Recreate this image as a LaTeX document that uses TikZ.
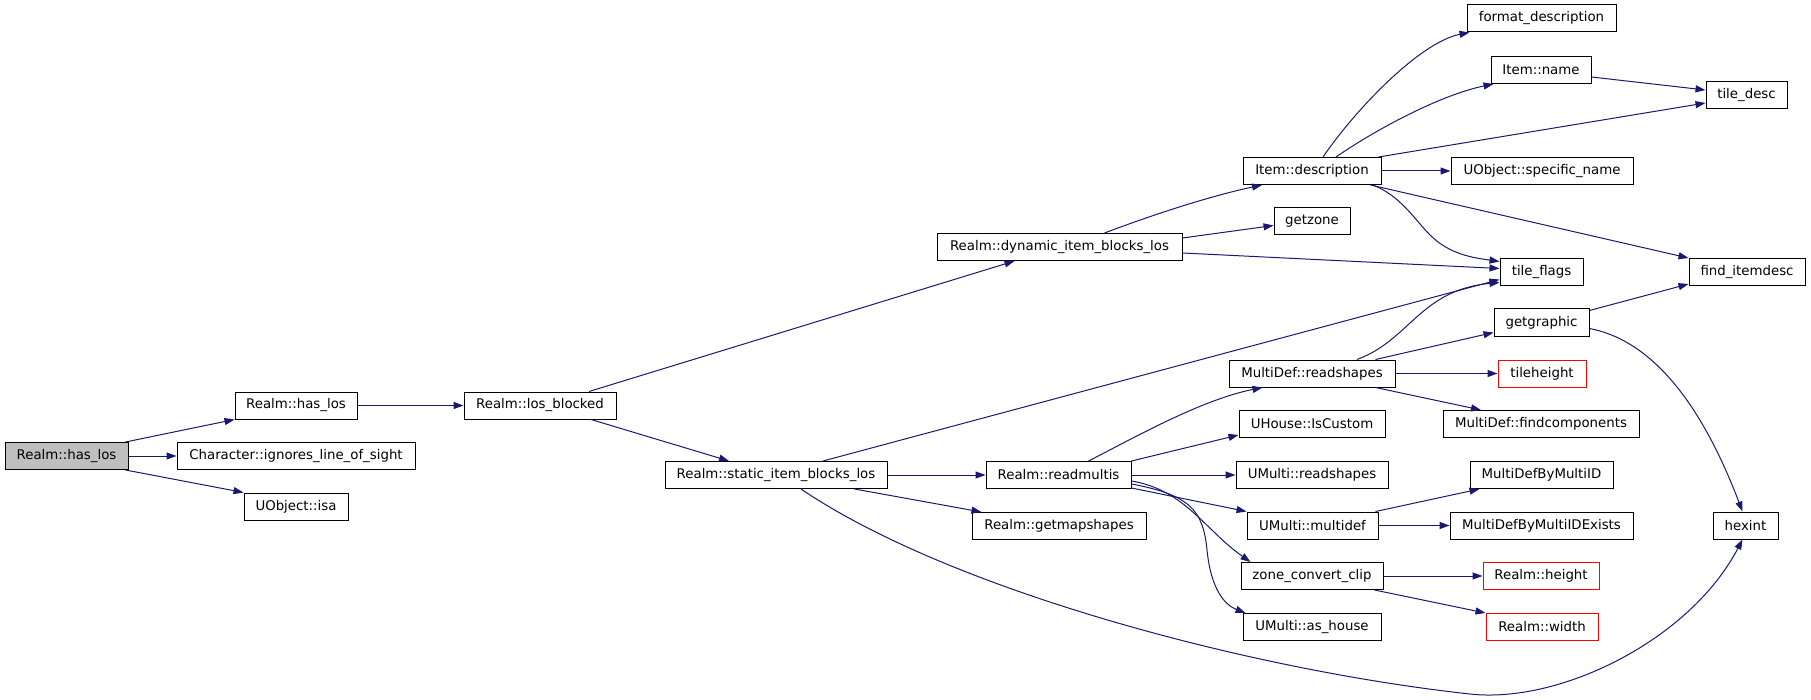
\documentclass[tikz,border=0pt]{standalone}
\usepackage{fontspec}
\setmainfont{DejaVu Sans}
\usetikzlibrary{arrows.meta}
\definecolor{edgec}{HTML}{191970}
\definecolor{grayfill}{HTML}{BFBFBF}
\begin{document}
\begin{tikzpicture}[x=1pt,y=-1pt,
 box/.style={draw=black, line width=1pt, rectangle, inner sep=0pt, minimum height=27pt, font=\fontsize{13.33}{16}\selectfont, text=black},
 redbox/.style={box, draw=red},
 root/.style={box, fill=grayfill},
 edge/.style={draw=edgec, line width=1pt, -{Triangle[length=10pt,width=7pt]}}]

\useasboundingbox (0,0) rectangle (1811,700);

\node[root, minimum width=123pt] (hl0) at (66.5,456) {Realm::has\_los};
\node[box, minimum width=122pt] (hl) at (296,405.5) {Realm::has\_los};
\node[box, minimum width=238pt] (cils) at (296,456) {Character::ignores\_line\_of\_sight};
\node[box, minimum width=104pt] (isa) at (296,506.5) {UObject::isa};
\node[box, minimum width=152pt] (lb) at (540,405.5) {Realm::los\_blocked};
\node[box, minimum width=245pt] (dib) at (1059.5,247) {Realm::dynamic\_item\_blocks\_los};
\node[box, minimum width=222pt] (sib) at (776,475) {Realm::static\_item\_blocks\_los};
\node[box, minimum width=138pt] (desc) at (1312,171) {Item::description};
\node[box, minimum width=76pt] (gz) at (1312,221.5) {getzone};
\node[box, minimum width=149pt] (fmt) at (1541.5,18.5) {format\_description};
\node[box, minimum width=100pt] (name) at (1541,70) {Item::name};
\node[box, minimum width=81pt] (tdesc) at (1746.5,95) {tile\_desc};
\node[box, minimum width=182pt] (sname) at (1542,171) {UObject::specific\_name};
\node[box, minimum width=83pt] (tflags) at (1541.5,272.5) {tile\_flags};
\node[box, minimum width=116pt] (fid) at (1747,272) {find\_itemdesc};
\node[box, minimum width=95pt] (gg) at (1541.5,322.5) {getgraphic};
\node[box, minimum width=166pt] (mdrs) at (1312,373.5) {MultiDef::readshapes};
\node[redbox, minimum width=88pt] (th) at (1542,373.5) {tileheight};
\node[box, minimum width=196pt] (mdfc) at (1541,424) {MultiDef::findcomponents};
\node[box, minimum width=146pt] (uhic) at (1312,424) {UHouse::IsCustom};
\node[box, minimum width=145pt] (rm) at (1058.5,475) {Realm::readmultis};
\node[box, minimum width=152pt] (umrs) at (1312,475) {UMulti::readshapes};
\node[box, minimum width=143pt] (mdbm) at (1541.5,475) {MultiDefByMultiID};
\node[box, minimum width=131pt] (umd) at (1312.5,525.5) {UMulti::multidef};
\node[box, minimum width=183pt] (mdbme) at (1541.5,525.5) {MultiDefByMultiIDExists};
\node[box, minimum width=65pt] (hex) at (1745.5,525.5) {hexint};
\node[box, minimum width=174pt] (gms) at (1059,526) {Realm::getmapshapes};
\node[box, minimum width=142pt] (zcc) at (1312,576) {zone\_convert\_clip};
\node[redbox, minimum width=116pt] (rh) at (1541,576) {Realm::height};
\node[box, minimum width=138pt] (uah) at (1312,627) {UMulti::as\_house};
\node[redbox, minimum width=112pt] (rw) at (1542,627) {Realm::width};

\draw[edge] ([xshift=-3pt]hl0.north east) -- (hl.south west);
\draw[edge] (hl0.east) -- (cils.west);
\draw[edge] ([xshift=-3pt]hl0.south east) -- (isa.north west);
\draw[edge] (hl.east) -- (lb.west);
\draw[edge] ([xshift=49pt]lb.north) -- ([xshift=-45pt]dib.south);
\draw[edge] ([xshift=51pt]lb.south) -- ([xshift=-47pt]sib.north);
\draw[edge] ([xshift=45pt]dib.north) .. controls (1160,212) and (1215,195) .. ([xshift=-50pt]desc.south);
\draw[edge] ([yshift=9pt]dib.east) -- ([yshift=-4pt]gz.west);
\draw[edge] ([yshift=-6pt]dib.east) -- ([yshift=4pt]tflags.west);
\draw[edge] ([xshift=11pt]desc.north) .. controls (1355,110) and (1420,42) .. ([xshift=3pt]fmt.south west);
\draw[edge] ([xshift=24pt]desc.north) .. controls (1375,130) and (1440,95) .. ([xshift=3pt]name.south west);
\draw[edge] ([yshift=-7pt]name.east) -- ([yshift=5pt]tdesc.west);
\draw[edge] ([xshift=-3pt]desc.north east) -- ([yshift=-8pt]tdesc.west);
\draw[edge] (desc.east) -- (sname.west);
\draw[edge] ([xshift=-9pt]desc.south east) .. controls (1400,195) and (1415,220) .. (1430,235) .. controls (1450,255) and (1475,258) .. ([yshift=-3pt]tflags.north west);
\draw[edge] ([xshift=-11pt]desc.south east) -- (fid.north west);
\draw[edge] ([xshift=47pt]sib.north) -- ([yshift=-7pt]tflags.west);
\draw[edge] ([xshift=45pt]mdrs.north) .. controls (1410,340) and (1420,290) .. ([yshift=-10pt]tflags.west);
\draw[edge] ([xshift=-20pt]mdrs.north east) -- ([yshift=-10pt]gg.west);
\draw[edge] (mdrs.east) -- (th.west);
\draw[edge] ([xshift=-20pt]mdrs.south east) -- ([xshift=-60pt]mdfc.north);
\draw[edge] ([yshift=12pt]gg.east) -- ([yshift=2pt]fid.south west);
\draw[edge] ([yshift=-6pt]gg.east) .. controls (1650,340) and (1700,400) .. ([xshift=-3pt]hex.north);
\draw[edge] ([xshift=30pt]rm.north) .. controls (1130,440) and (1200,400) .. ([xshift=34pt]mdrs.south west);
\draw[edge] (rm.north east) -- ([yshift=3pt]uhic.south west);
\draw[edge] (rm.east) -- (umrs.west);
\draw[edge] ([yshift=1pt]rm.south east) -- (umd.north west);
\draw[edge] ([yshift=-6pt]rm.east) .. controls (1185,490) and (1205,530) .. ([xshift=10pt]zcc.north west);
\draw[edge] ([yshift=-9pt]rm.east) .. controls (1190,495) and (1203,510) .. (1207,550) .. controls (1211,590) and (1225,605) .. ([xshift=3pt]uah.north west);
\draw[edge] (sib.east) -- (rm.west);
\draw[edge] ([xshift=-33pt]sib.south east) -- ([xshift=10pt]gms.north west);
\draw[edge] ([xshift=25pt]sib.south) .. controls (950,590) and (1250,670) .. (1470,694) .. controls (1560,704) and (1690,640) .. ([xshift=-3pt]hex.south);
\draw[edge] ([xshift=-3pt]umd.north east) -- ([xshift=10pt]mdbm.south west);
\draw[edge] (umd.east) -- (mdbme.west);
\draw[edge] (zcc.east) -- (rh.west);
\draw[edge] ([xshift=-9pt]zcc.south east) -- (rw.north west);
\end{tikzpicture}
\end{document}
